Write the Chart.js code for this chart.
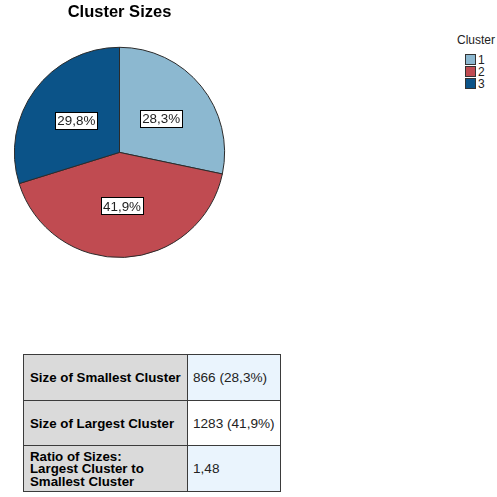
<!DOCTYPE html>
<html>
<head>
  <meta charset="UTF-8">
  <title>Cluster Sizes</title>
  <script src="https://cdn.jsdelivr.net/npm/chart.js"></script>
  <style>
  html, body {
    margin: 0;
    padding: 0;
    background: #ffffff;
    width: 497px;
    height: 497px;
    overflow: hidden;
    font-family: Arial, 'Liberation Sans', sans-serif;
    color: #000;
  }

  #pieWrap {
    position: absolute;
    left: 0;
    top: 0;
    width: 240px;
    height: 270px;
  }

  .legend {
    position: absolute;
    left: 457px;
    top: 33px;
    font-size: 12px;
    color: #222;
  }

  .legend .item {
    height: 12px;
    line-height: 12px;
    margin-left: 8px;
    white-space: nowrap;
  }

  .legend .swatch {
    display: inline-block;
    width: 9px;
    height: 9px;
    border: 1px solid #333;
    vertical-align: -1px;
    margin-right: 2px;
  }

  .legend .title {
    margin-bottom: 7px;
  }

  table {
    position: absolute;
    left: 23px;
    top: 354px;
    width: 258px;
    border-collapse: collapse;
    table-layout: fixed;
  }

  td {
    border: 1px solid #3b3b3b;
    padding: 0 6px;
    white-space: nowrap;
  }

  td.head {
    background: #dadada;
    font-weight: bold;
    font-size: 13.3px;
    width: 151px;
    line-height: 12.5px;
    padding-top: 2px;
  }

  td.val {
    font-size: 13.6px;
    padding: 0 0 0 5px;
    color: #222;
  }
</style>
</head>
<body>

  <div id="pieWrap"><canvas id="pieChart"></canvas></div>
  <div class="legend" id="legend"></div>
  <table id="stats"></table>

  <script>
    const clusters = ["1", "2", "3"];
    const clusterCounts = [866, 1283, 912];
    const pctLabels = ["28,3%", "41,9%", "29,8%"];
    const clusterColors = ["#8cb8d0", "#c04b51", "#0b5388"];

    const statNames = ["Size of Smallest Cluster", "Size of Largest Cluster", "Ratio of Sizes: Largest Cluster to Smallest Cluster"];
    const statValues = ["866 (28,3%)", "1283 (41,9%)", "1,48"];
    const statFills = ["#eaf4fd", "#ffffff", "#eaf4fd"];
    const rowHeights = [46, 45, 46];

    // boxed percentage labels half way out along each slice
    const boxLabels = {
      id: "boxLabels",
      afterDatasetsDraw(chart) {
        const ctx = chart.ctx;
        const arcs = chart.getDatasetMeta(0).data;
        ctx.save();
        ctx.font = "13.4px Arial, 'Liberation Sans', sans-serif";
        ctx.textAlign = "center";
        ctx.textBaseline = "middle";
        arcs.forEach((arc, i) => {
          const mid = (arc.startAngle + arc.endAngle) / 2;
          const r = arc.outerRadius * 0.51;
          const x = arc.x + Math.cos(mid) * r;
          const y = arc.y + Math.sin(mid) * r;
          const w = Math.round(ctx.measureText(pctLabels[i]).width + 4);
          const h = 17;
          const bx = Math.round(x - w / 2) + 0.5;
          const by = Math.round(y - h / 2) + 0.5;
          ctx.fillStyle = "#ffffff";
          ctx.fillRect(bx, by, w, h);
          ctx.strokeStyle = "#000000";
          ctx.lineWidth = 1;
          ctx.strokeRect(bx, by, w, h);
          ctx.fillStyle = "#222222";
          ctx.fillText(pctLabels[i], x, y + 1);
        });
        ctx.restore();
      }
    };

    new Chart(document.getElementById("pieChart"), {
      type: "pie",
      data: {
        labels: clusters,
        datasets: [{
          data: clusterCounts,
          backgroundColor: clusterColors,
          borderColor: "#2b2b2b",
          borderWidth: 1
        }]
      },
      options: {
        responsive: true,
        maintainAspectRatio: false,
        animation: false,
        layout: { padding: { left: 12, right: 13, top: 0, bottom: 12 } },
        plugins: {
          legend: { display: false },
          tooltip: { enabled: false },
          title: {
            display: true,
            text: "Cluster Sizes",
            color: "#000",
            font: { family: "Arial, 'Liberation Sans', sans-serif", size: 16.5, weight: "bold" },
            padding: { top: 3, bottom: 24 }
          }
        }
      },
      plugins: [boxLabels]
    });

    const legend = document.getElementById("legend");
    legend.innerHTML = '<div class="title">Cluster</div>' + clusters.map((c, i) =>
      `<div class="item"><span class="swatch" style="background:${clusterColors[i]}"></span>${c}</div>`
    ).join("");

    const table = document.getElementById("stats");
    table.innerHTML = statNames.map((n, i) =>
      `<tr style="height:${rowHeights[i]}px"><td class="head">${n.replace(": ", ":<br>").replace(" to ", " to<br>")}</td>` +
      `<td class="val" style="background:${statFills[i]}">${statValues[i]}</td></tr>`
    ).join("");
  </script>

</body>
</html>
